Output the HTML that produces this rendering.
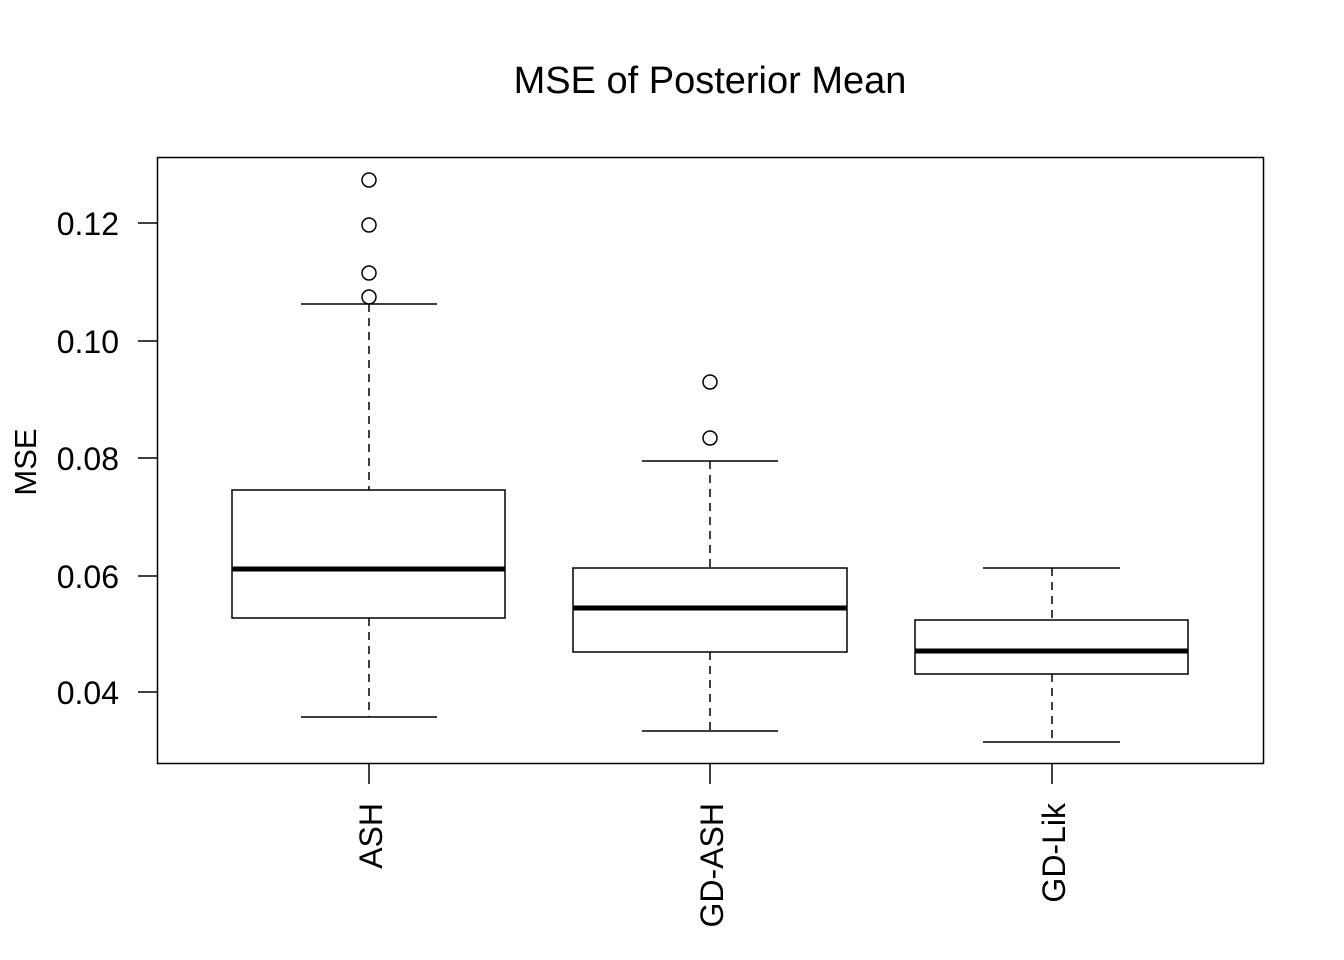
<!DOCTYPE html>
<html><head><meta charset="utf-8"><style>
html,body{margin:0;padding:0;background:#fff;}
svg{display:block;}
text{font-family:"Liberation Sans",Arial,sans-serif;fill:#000;}
</style></head><body>
<svg width="1344" height="960" viewBox="0 0 1344 960" xmlns="http://www.w3.org/2000/svg">
<text x="710" y="93" font-size="38" text-anchor="middle">MSE of Posterior Mean</text>
<rect x="157.5" y="157.5" width="1106" height="606" fill="none" stroke="#000" stroke-width="1.5"/>
<g stroke="#000" stroke-width="1.5">
<line x1="138" y1="223" x2="157" y2="223"/>
<line x1="138" y1="341" x2="157" y2="341"/>
<line x1="138" y1="458" x2="157" y2="458"/>
<line x1="138" y1="576" x2="157" y2="576"/>
<line x1="138" y1="692" x2="157" y2="692"/>
<line x1="369" y1="764" x2="369" y2="784"/>
<line x1="710" y1="764" x2="710" y2="784"/>
<line x1="1052" y1="764" x2="1052" y2="784"/>
</g>
<g font-size="32" text-anchor="end">
<text x="119" y="235">0.12</text>
<text x="119" y="353">0.10</text>
<text x="119" y="470">0.08</text>
<text x="119" y="588">0.06</text>
<text x="119" y="704">0.04</text>
<text transform="translate(382,803) rotate(-90)">ASH</text>
<text transform="translate(723,803) rotate(-90)">GD-ASH</text>
<text transform="translate(1065,803) rotate(-90)">GD-Lik</text>
</g>
<text transform="translate(36,462) rotate(-90)" font-size="31" text-anchor="middle">MSE</text>
<g stroke="#000" stroke-width="1.5" fill="none">
<line x1="369" y1="304" x2="369" y2="490" stroke-dasharray="8,6"/>
<line x1="369" y1="618" x2="369" y2="717" stroke-dasharray="8,6"/>
<line x1="301" y1="304" x2="437" y2="304"/>
<line x1="301" y1="717" x2="437" y2="717"/>
<rect x="232" y="490" width="273" height="128" fill="#fff"/>
<line x1="232" y1="569" x2="505" y2="569" stroke-width="5"/>
<circle cx="369" cy="180" r="7"/><circle cx="369" cy="225" r="7"/><circle cx="369" cy="273" r="7"/><circle cx="369" cy="297" r="7"/>
<line x1="710" y1="461" x2="710" y2="568" stroke-dasharray="8,6"/>
<line x1="710" y1="652" x2="710" y2="731" stroke-dasharray="8,6"/>
<line x1="642" y1="461" x2="778" y2="461"/>
<line x1="642" y1="731" x2="778" y2="731"/>
<rect x="573" y="568" width="274" height="84" fill="#fff"/>
<line x1="573" y1="608" x2="847" y2="608" stroke-width="5"/>
<circle cx="710" cy="382" r="7"/><circle cx="710" cy="438" r="7"/>
<line x1="1052" y1="568" x2="1052" y2="620" stroke-dasharray="8,6"/>
<line x1="1052" y1="674" x2="1052" y2="742" stroke-dasharray="8,6"/>
<line x1="983" y1="568" x2="1120" y2="568"/>
<line x1="983" y1="742" x2="1120" y2="742"/>
<rect x="915" y="620" width="273" height="54" fill="#fff"/>
<line x1="915" y1="651" x2="1188" y2="651" stroke-width="5"/>
</g>
</svg>
</body></html>
